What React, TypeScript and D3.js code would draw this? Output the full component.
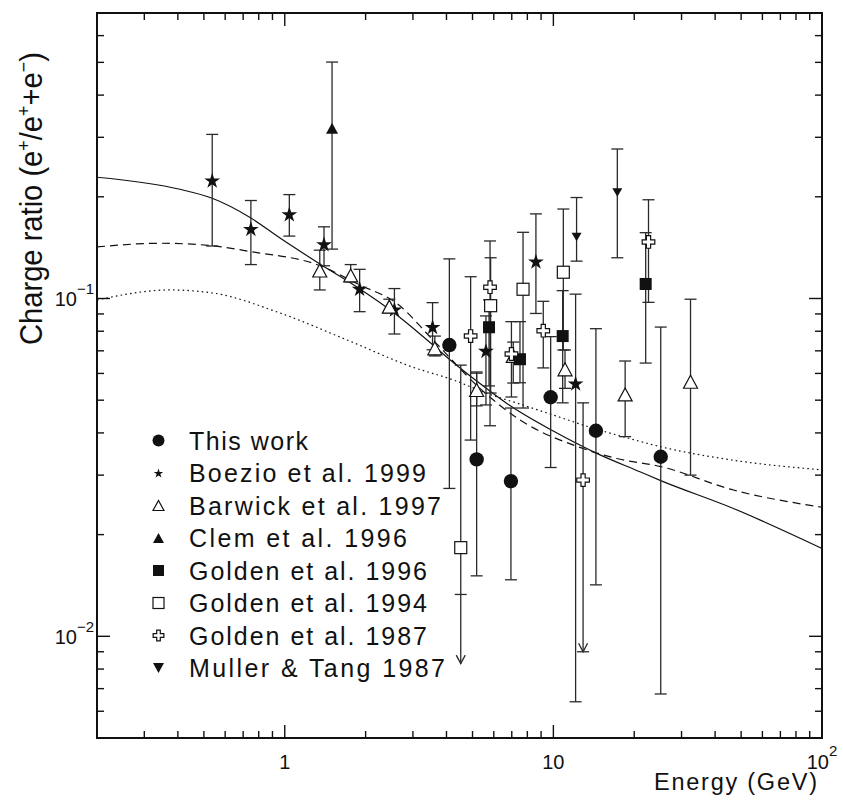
import { useEffect, useRef } from 'react';
import * as d3 from 'd3';

const WIDTH = 843;
const HEIGHT = 801;
const PLOT = { left: 97, right: 822, top: 13, bottom: 738 };

const X_DOMAIN: [number, number] = [0.2, 100];
const Y_DOMAIN: [number, number] = [0.005, 0.7];

// tick labels: [value, base, exponent]
const X_LABELS: [number, string, string][] = [
    [1, '1', ''],
    [10, '10', ''],
    [100, '10', '2'],
];
const Y_LABELS: [number, string, string][] = [
    [0.01, '10', '−2'],
    [0.1, '10', '−1'],
];

// [energy GeV, ratio, low, high, arrow end?]
type Row = [number, number, number, number, number?];

const THIS_WORK: Row[] = [
    [4.1, 0.0728, 0.0274, 0.131],
    [5.18, 0.0334, 0.0151, 0.0606],
    [6.95, 0.0288, 0.0147, 0.0474],
    [9.77, 0.051, 0.0316, 0.0771],
    [14.4, 0.0406, 0.0142, 0.0814],
    [25.1, 0.034, 0.00675, 0.0823],
];

const BOEZIO_1999: Row[] = [
    [0.537, 0.224, 0.143, 0.306],
    [0.748, 0.161, 0.126, 0.195],
    [1.04, 0.178, 0.153, 0.203],
    [1.4, 0.145, 0.125, 0.163],
    [1.9, 0.107, 0.0914, 0.122],
    [2.56, 0.0929, 0.0785, 0.107],
    [3.55, 0.0825, 0.0705, 0.0972],
    [5.61, 0.0701, 0.0484, 0.0888],
    [8.61, 0.129, 0.0903, 0.178],
    [12.1, 0.0561, 0.0064, 0.103],
];

const BARWICK_1997: Row[] = [
    [1.35, 0.121, 0.106, 0.139],
    [1.76, 0.117, 0.112, 0.126],
    [2.45, 0.0946, 0.0906, 0.0995],
    [3.62, 0.0712, 0.0676, 0.0774],
    [5.18, 0.0536, 0.0481, 0.0601],
    [7.09, 0.0676, 0.0562, 0.0743],
    [11.05, 0.0617, 0.0542, 0.0704],
    [18.5, 0.052, 0.039, 0.0653],
    [32.4, 0.0567, 0.03, 0.0995],
];

const CLEM_1996: Row[] = [[1.5, 0.319, 0.14, 0.501]];

const GOLDEN_1996: Row[] = [
    [5.76, 0.0822, 0.0551, 0.099],
    [7.51, 0.0661, 0.0563, 0.0854],
    [10.83, 0.0774, 0.0491, 0.1055],
    [22.06, 0.1104, 0.0644, 0.1566],
];

const GOLDEN_1994: Row[] = [
    [4.52, 0.0183, 0.0133, 0.0635, 0.0083],
    [5.84, 0.0952, 0.0525, 0.132],
    [7.71, 0.1065, 0.0474, 0.157],
    [10.89, 0.1196, 0.0704, 0.184],
];

const GOLDEN_1987: Row[] = [
    [4.92, 0.0774, 0.0381, 0.116],
    [5.81, 0.108, 0.042, 0.148],
    [6.98, 0.0685, 0.0511, 0.0854],
    [9.17, 0.0803, 0.0623, 0.0981],
    [12.9, 0.029, 0.009, 0.0491, 0.009],
    [22.6, 0.147, 0.0974, 0.196],
];

const MULLER_1987: Row[] = [
    [12.2, 0.152, 0.129, 0.199],
    [17.3, 0.206, 0.132, 0.277],
];

// model curves
const SOLID_E = [0.2, 0.407, 0.537, 0.748, 0.96, 1.352, 1.905, 2.528, 3.563, 4.121, 5.18, 6.89, 9.99, 14.5, 21.0, 25.1, 46.8, 100];
const SOLID_R = [0.2285, 0.2105, 0.198, 0.1731, 0.151, 0.1265, 0.1067, 0.0912, 0.0728, 0.0659, 0.057, 0.0482, 0.0405, 0.0348, 0.0307, 0.0289, 0.0239, 0.0182];

const DASHED_E = [0.2, 0.343, 0.536, 0.748, 1.352, 1.905, 2.61, 3.563, 5.33, 7.51, 12.35, 17.2, 25.1, 46.8, 100];
const DASHED_R = [0.1421, 0.1457, 0.1433, 0.1376, 0.1251, 0.1096, 0.0968, 0.0754, 0.0542, 0.0437, 0.0364, 0.0336, 0.0318, 0.0271, 0.0241];

const DOTTED_E = [0.2, 0.374, 0.54, 0.96, 1.704, 3.0, 4.24, 5.65, 7.51, 9.97, 14.08, 17.7, 25.1, 46.8, 100];
const DOTTED_R = [0.099, 0.106, 0.1038, 0.0906, 0.0754, 0.0626, 0.0574, 0.0524, 0.0487, 0.0452, 0.0413, 0.0392, 0.0364, 0.0332, 0.0311];

type MarkerKind = 'circle' | 'star' | 'triOpen' | 'triFilled' | 'sqFilled' | 'sqOpen' | 'cross' | 'triDown';

const SERIES: { label: string; kind: MarkerKind; data: Row[]; textLength: number }[] = [
    { label: 'This work', kind: 'circle', data: THIS_WORK, textLength: 119 },
    { label: 'Boezio et al. 1999', kind: 'star', data: BOEZIO_1999, textLength: 237 },
    { label: 'Barwick et al. 1997', kind: 'triOpen', data: BARWICK_1997, textLength: 252 },
    { label: 'Clem et al. 1996', kind: 'triFilled', data: CLEM_1996, textLength: 218 },
    { label: 'Golden et al. 1996', kind: 'sqFilled', data: GOLDEN_1996, textLength: 238 },
    { label: 'Golden et al. 1994', kind: 'sqOpen', data: GOLDEN_1994, textLength: 238 },
    { label: 'Golden et al. 1987', kind: 'cross', data: GOLDEN_1987, textLength: 238 },
    { label: 'Muller & Tang 1987', kind: 'triDown', data: MULLER_1987, textLength: 256 },
];

const FONT = '"Liberation Sans", Arial, sans-serif';
const INK = '#111';

const drawMarker = (
    g: d3.Selection<SVGGElement, unknown, null, undefined>,
    kind: MarkerKind,
    cx: number,
    cy: number,
    legend: boolean
) => {
    const k = legend ? 0.85 : 1;
    const open = { fill: '#fff', stroke: INK, 'stroke-width': 1.2 };
    const filled = { fill: INK, stroke: 'none' };
    const apply = (sel: d3.Selection<any, unknown, null, undefined>, attrs: Record<string, string | number>) => {
        Object.entries(attrs).forEach(([key, value]) => sel.attr(key, value));
        return sel;
    };

    if (kind === 'circle') {
        apply(g.append('circle').attr('cx', cx).attr('cy', cy).attr('r', legend ? 6 : 7.2), filled);
    } else if (kind === 'star') {
        const r = legend ? 5 : 8.3;
        apply(
            g
                .append('path')
                .attr('d', d3.symbol().type(d3.symbolStar).size((r * r) / 0.8908)() ?? '')
                .attr('transform', `translate(${cx},${cy + r * 0.1})`),
            filled
        );
    } else if (kind === 'triOpen' || kind === 'triFilled' || kind === 'triDown') {
        let w = kind === 'triOpen' ? 14 : kind === 'triFilled' ? 12 : 10;
        let h = kind === 'triOpen' ? 13 : kind === 'triFilled' ? 11 : 8.5;
        if (legend) {
            w = 11;
            h = 10;
        }
        const dir = kind === 'triDown' ? -1 : 1;
        const d = `M0,${-dir * h / 2}L${w / 2},${dir * h / 2}L${-w / 2},${dir * h / 2}Z`;
        apply(g.append('path').attr('d', d).attr('transform', `translate(${cx},${cy})`), kind === 'triOpen' ? open : filled);
    } else if (kind === 'sqFilled' || kind === 'sqOpen') {
        const s = legend ? 11 : 12;
        apply(
            g.append('rect').attr('x', cx - s / 2).attr('y', cy - s / 2).attr('width', s).attr('height', s),
            kind === 'sqOpen' ? open : filled
        );
    } else if (kind === 'cross') {
        const L = 6.3 * k;
        const a = 2.1 * k;
        const d = `M${-a},${-L}H${a}V${-a}H${L}V${a}H${a}V${L}H${-a}V${a}H${-L}V${-a}H${-a}Z`;
        apply(g.append('path').attr('d', d).attr('transform', `translate(${cx},${cy})`), open);
    }
};

export default function App() {
    const svgRef = useRef<SVGSVGElement | null>(null);

    useEffect(() => {
        if (!svgRef.current) {
            return;
        }
        const svg = d3.select(svgRef.current);
        svg.selectAll('*').remove();

        const x = d3.scaleLog().domain(X_DOMAIN).range([PLOT.left, PLOT.right]);
        const y = d3.scaleLog().domain(Y_DOMAIN).range([PLOT.bottom, PLOT.top]);

        svg.append('rect').attr('width', WIDTH).attr('height', HEIGHT).attr('fill', '#fff');

        // model curves
        const curve = (es: number[], rs: number[], dash: string | null, width: number) => {
            const line = d3
                .line<number>()
                .x((e) => x(e))
                .y((_, i) => y(rs[i]))
                .curve(d3.curveMonotoneX);
            const path = svg
                .append('path')
                .attr('d', line(es) ?? '')
                .attr('fill', 'none')
                .attr('stroke', INK)
                .attr('stroke-width', width);
            if (dash) {
                path.attr('stroke-dasharray', dash);
            }
        };
        curve(SOLID_E, SOLID_R, null, 1.2);
        curve(DASHED_E, DASHED_R, '8,5', 1.2);
        curve(DOTTED_E, DOTTED_R, '1.6,3.2', 1.2);

        // error bars
        const bars = svg.append('g').attr('stroke', '#2a2a2a').attr('stroke-width', 1.3).attr('fill', 'none');
        const cap = 6;
        SERIES.forEach((series) => {
            series.data.forEach(([e, , lo, hi, arrow]) => {
                const px = x(e);
                const bottom = arrow !== undefined ? Math.max(y(arrow), y(lo)) : y(lo);
                bars.append('line').attr('x1', px).attr('x2', px).attr('y1', y(hi)).attr('y2', bottom);
                bars.append('line').attr('x1', px - cap).attr('x2', px + cap).attr('y1', y(hi)).attr('y2', y(hi));
                bars.append('line').attr('x1', px - cap).attr('x2', px + cap).attr('y1', y(lo)).attr('y2', y(lo));
                if (arrow !== undefined) {
                    const tip = y(arrow);
                    bars
                        .append('path')
                        .attr('d', `M${px - 4.5},${tip - 8.5}L${px},${tip}L${px + 4.5},${tip - 8.5}`);
                }
            });
        });

        // markers
        const marks = svg.append('g');
        SERIES.forEach((series) => {
            series.data.forEach(([e, r]) => drawMarker(marks, series.kind, x(e), y(r), false));
        });

        // legend
        const legend = svg.append('g');
        SERIES.forEach((series, i) => {
            const cy = 440.5 + i * 32.5;
            drawMarker(legend, series.kind, 158.5, cy, true);
            legend
                .append('text')
                .attr('x', 189)
                .attr('y', cy + 9)
                .attr('font-family', FONT)
                .attr('font-size', 25)
                .attr('fill', INK)
                .attr('textLength', series.textLength)
                .attr('lengthAdjust', 'spacing')
                .text(series.label);
        });

        // frame and ticks
        const axes = svg.append('g').attr('stroke', INK).attr('stroke-width', 1.4);
        x.ticks().forEach((t) => {
            const major = Math.abs(Math.log10(t) - Math.round(Math.log10(t))) < 1e-9;
            const len = major ? 13 : 7;
            const px = x(t);
            axes.append('line').attr('x1', px).attr('x2', px).attr('y1', PLOT.bottom).attr('y2', PLOT.bottom - len);
            axes.append('line').attr('x1', px).attr('x2', px).attr('y1', PLOT.top).attr('y2', PLOT.top + len);
        });
        y.ticks().forEach((t) => {
            const major = Math.abs(Math.log10(t) - Math.round(Math.log10(t))) < 1e-9;
            const len = major ? 13 : 7;
            const py = y(t);
            axes.append('line').attr('x1', PLOT.left).attr('x2', PLOT.left + len).attr('y1', py).attr('y2', py);
            axes.append('line').attr('x1', PLOT.right).attr('x2', PLOT.right - len).attr('y1', py).attr('y2', py);
        });
        svg.append('rect')
            .attr('x', PLOT.left)
            .attr('y', PLOT.top)
            .attr('width', PLOT.right - PLOT.left)
            .attr('height', PLOT.bottom - PLOT.top)
            .attr('fill', 'none')
            .attr('stroke', INK)
            .attr('stroke-width', 2);

        // tick labels
        X_LABELS.forEach(([v, base, exp]) => {
            const t = svg
                .append('text')
                .attr('x', x(v))
                .attr('y', PLOT.bottom + 31)
                .attr('text-anchor', 'middle')
                .attr('font-family', FONT)
                .attr('font-size', 20)
                .attr('fill', INK);
            t.append('tspan').text(base);
            if (exp) {
                t.append('tspan').attr('dy', -13).attr('font-size', 15).text(exp);
            }
        });
        Y_LABELS.forEach(([v, base, exp]) => {
            const t = svg
                .append('text')
                .attr('x', 94)
                .attr('y', y(v) + 7.5)
                .attr('text-anchor', 'end')
                .attr('font-family', FONT)
                .attr('font-size', 20)
                .attr('fill', INK);
            t.append('tspan').text(base);
            t.append('tspan').attr('dy', -12).attr('font-size', 15).text(exp);
        });

        // axis titles
        svg.append('text')
            .attr('x', 817)
            .attr('y', 790)
            .attr('text-anchor', 'end')
            .attr('font-family', FONT)
            .attr('font-size', 23.5)
            .attr('fill', INK)
            .attr('textLength', 163)
            .attr('lengthAdjust', 'spacing')
            .text('Energy (GeV)');

        const yTitle = svg
            .append('text')
            .attr('transform', 'translate(42,345) rotate(-90) scale(0.94,1)')
            .attr('font-family', FONT)
            .attr('font-size', 31)
            .attr('fill', INK);
        const parts: [string, boolean][] = [
            ['Charge ratio (e', false],
            ['+', true],
            ['/e', false],
            ['+', true],
            ['+e', false],
            ['−', true],
            [')', false],
        ];
        let raised = false;
        parts.forEach(([txt, sup]) => {
            const dy = sup ? -12 : raised ? 12 : 0;
            raised = sup;
            yTitle
                .append('tspan')
                .attr('dy', dy)
                .attr('font-size', sup ? 19 : 31)
                .text(txt);
        });
    }, []);

    return (
        <svg
            ref={svgRef}
            width={WIDTH}
            height={HEIGHT}
            style={{ position: 'absolute', left: 0, top: 0, display: 'block' }}
        />
    );
}
